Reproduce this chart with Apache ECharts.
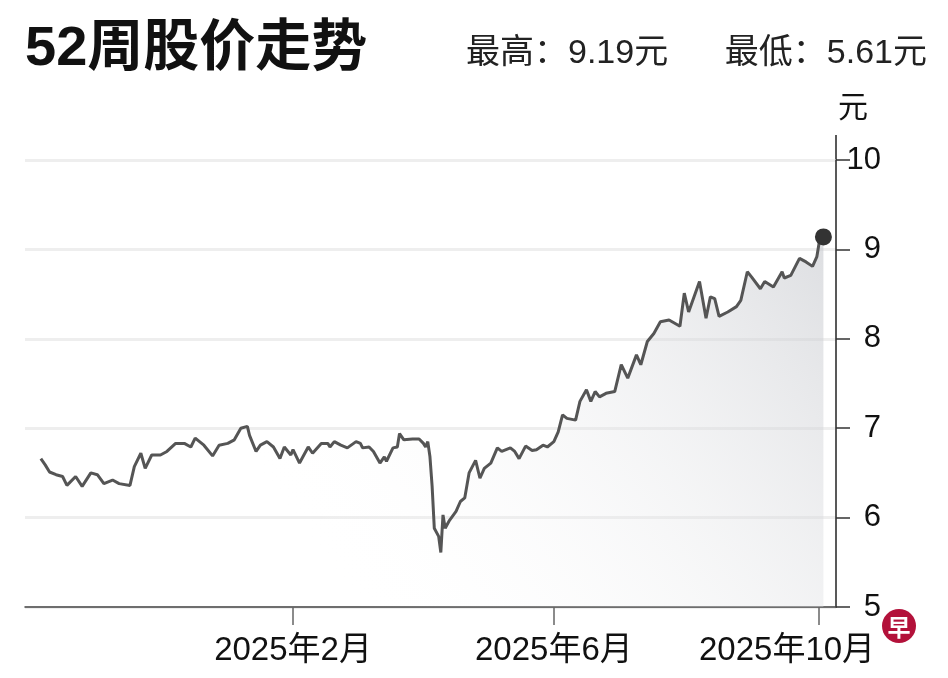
<!DOCTYPE html>
<html>
<head>
<meta charset="utf-8">
<title>52周股价走势</title>
<script src="https://cdn.jsdelivr.net/npm/echarts@6/dist/echarts.min.js"></script>
<style>
  html, body { margin: 0; padding: 0; background: #fff; }
  #main { width: 948px; height: 678px; }
</style>
</head>
<body>
<div id="main"></div>
<script>
// closing prices
var dates = [
  '2024-10-08', '2024-10-10', '2024-10-12', '2024-10-15', '2024-10-18', '2024-10-20',
  '2024-10-24', '2024-10-27', '2024-10-31', '2024-11-03', '2024-11-06', '2024-11-10',
  '2024-11-13', '2024-11-18', '2024-11-20', '2024-11-23', '2024-11-25', '2024-11-28',
  '2024-12-02', '2024-12-05', '2024-12-09', '2024-12-13', '2024-12-16', '2024-12-18',
  '2024-12-22', '2024-12-26', '2024-12-29', '2025-01-02', '2025-01-05', '2025-01-08',
  '2025-01-11', '2025-01-12', '2025-01-15', '2025-01-17', '2025-01-20', '2025-01-23',
  '2025-01-26', '2025-01-28', '2025-01-31', '2025-02-01', '2025-02-04', '2025-02-08',
  '2025-02-10', '2025-02-14', '2025-02-17', '2025-02-18', '2025-02-20', '2025-02-23',
  '2025-02-26', '2025-03-02', '2025-03-04', '2025-03-05', '2025-03-08', '2025-03-10',
  '2025-03-13', '2025-03-15', '2025-03-16', '2025-03-19', '2025-03-21', '2025-03-22',
  '2025-03-24', '2025-03-28', '2025-03-31', '2025-04-02', '2025-04-03', '2025-04-04',
  '2025-04-05', '2025-04-06', '2025-04-07', '2025-04-09', '2025-04-10', '2025-04-11',
  '2025-04-12', '2025-04-14', '2025-04-17', '2025-04-19', '2025-04-21', '2025-04-23',
  '2025-04-26', '2025-04-28', '2025-04-30', '2025-05-03', '2025-05-06', '2025-05-08',
  '2025-05-12', '2025-05-14', '2025-05-16', '2025-05-19', '2025-05-22', '2025-05-24',
  '2025-05-27', '2025-05-29', '2025-06-01', '2025-06-03', '2025-06-05', '2025-06-07',
  '2025-06-11', '2025-06-13', '2025-06-16', '2025-06-18', '2025-06-20', '2025-06-22',
  '2025-06-25', '2025-06-29', '2025-07-02', '2025-07-05', '2025-07-09', '2025-07-11',
  '2025-07-14', '2025-07-17', '2025-07-20', '2025-07-24', '2025-07-29', '2025-07-31',
  '2025-08-02', '2025-08-07', '2025-08-10', '2025-08-12', '2025-08-14', '2025-08-16',
  '2025-08-20', '2025-08-24', '2025-08-26', '2025-08-29', '2025-08-31', '2025-09-04',
  '2025-09-06', '2025-09-10', '2025-09-14', '2025-09-15', '2025-09-18', '2025-09-22',
  '2025-09-25', '2025-09-28', '2025-09-30', '2025-10-01', '2025-10-02', '2025-10-03'
];
var prices = [
  6.66, 6.59, 6.51, 6.48, 6.46, 6.36,
  6.46, 6.35, 6.50, 6.48, 6.38, 6.42,
  6.38, 6.36, 6.57, 6.72, 6.55, 6.70,
  6.70, 6.74, 6.83, 6.83, 6.79, 6.89,
  6.81, 6.69, 6.81, 6.83, 6.87, 7.00,
  7.02, 6.92, 6.74, 6.81, 6.85, 6.79,
  6.66, 6.79, 6.70, 6.76, 6.61, 6.79,
  6.72, 6.83, 6.83, 6.79, 6.85, 6.81,
  6.78, 6.85, 6.83, 6.78, 6.79, 6.74,
  6.61, 6.68, 6.63, 6.78, 6.79, 6.94,
  6.87, 6.88, 6.88, 6.83, 6.79, 6.85,
  6.68, 6.35, 5.88, 5.79, 5.61, 6.03,
  5.88, 5.97, 6.07, 6.18, 6.22, 6.50,
  6.64, 6.44, 6.55, 6.61, 6.78, 6.74,
  6.78, 6.74, 6.66, 6.80, 6.75, 6.76,
  6.81, 6.79, 6.85, 6.96, 7.15, 7.11,
  7.09, 7.30, 7.43, 7.30, 7.41, 7.35,
  7.39, 7.41, 7.71, 7.56, 7.82, 7.71,
  7.97, 8.06, 8.19, 8.21, 8.14, 8.51,
  8.30, 8.64, 8.23, 8.47, 8.45, 8.25,
  8.30, 8.36, 8.43, 8.75, 8.69, 8.56,
  8.64, 8.58, 8.75, 8.68, 8.71, 8.90,
  8.86, 8.81, 8.92, 9.07, 9.19, 9.14
];
var monthTicks = ['2025-02-01', '2025-06-01', '2025-10-01'];
var yTicks = [5, 6, 7, 8, 9, 10];
var high = 9.19;
var low = 5.61;

var FONT = "'Liberation Sans', 'Noto Sans CJK SC', sans-serif";
var gridLeft = 25, gridRight = 112, gridTop = 160, gridBottom = 71;

function toTime(s) {
    var p = s.split('-');
    return new Date(+p[0], +p[1] - 1, +p[2]).getTime();
}

var chart = echarts.init(document.getElementById('main'));

// x is a plain value axis of timestamps so the three month ticks can be placed exactly
var seriesData = dates.map(function (d, i) { return [toTime(d), prices[i]]; });
var last = seriesData[seriesData.length - 1];
var lastTick = toTime(monthTicks[monthTicks.length - 1]);

var option = {
    backgroundColor: '#fff',
    animation: false,
    title: [
        {
            text: '52周股价走势',
            left: 20,
            top: 17,
            textStyle: { fontFamily: FONT, fontSize: 56, fontWeight: 'bold', color: '#111' }
        },
        {
            text: '最高：' + high.toFixed(2) + '元      最低：' + low.toFixed(2) + '元',
            right: 16,
            top: 32,
            textStyle: { fontFamily: FONT, fontSize: 34, fontWeight: 'normal', color: '#222' }
        }
    ],
    grid: { left: gridLeft, right: gridRight, top: gridTop, bottom: gridBottom },
    xAxis: {
        type: 'value',
        min: new Date(2024, 8, 30, 17).getTime(),
        max: new Date(2025, 9, 8, 19).getTime(),
        axisLine: { lineStyle: { color: '#444', width: 1.5 } },
        axisTick: {
            customValues: monthTicks.map(toTime),
            length: 18,
            lineStyle: { color: '#666', width: 1.5 }
        },
        axisLabel: {
            customValues: monthTicks.map(toTime),
            margin: 27,
            fontFamily: FONT,
            fontSize: 33,
            color: '#111',
            formatter: function (v) {
                var d = new Date(v);
                var s = d.getFullYear() + '年' + (d.getMonth() + 1) + '月';
                // the last label is pushed left, clear of the logo
                return v === lastTick ? '{shift|' + s + '}' : s;
            },
            rich: {
                shift: { fontFamily: FONT, fontSize: 33, color: '#111', padding: [0, 64, 0, 0] }
            }
        },
        splitLine: { show: false }
    },
    yAxis: {
        type: 'value',
        position: 'right',
        min: yTicks[0],
        max: yTicks[yTicks.length - 1],
        interval: 1,
        name: '元',
        nameLocation: 'end',
        nameGap: 36,
        nameTextStyle: { fontFamily: FONT, fontSize: 30, color: '#111', align: 'left', padding: [0, 0, 0, 2] },
        axisLine: { show: true, lineStyle: { color: '#222', width: 1.5 } },
        axisTick: { show: true, length: 14, lineStyle: { color: '#333', width: 1.5 } },
        axisLabel: { align: 'right', margin: 45, fontFamily: FONT, fontSize: 31, color: '#111' },
        splitLine: { lineStyle: { color: '#eeeeee', width: 3 } }
    },
    series: [
        {
            type: 'line',
            data: seriesData,
            showSymbol: false,
            lineStyle: { color: '#555', width: 3 },
            areaStyle: {
                color: new echarts.graphic.LinearGradient(1, 0.05, 0.4, 1, [
                    { offset: 0, color: 'rgba(200,202,207,0.85)' },
                    { offset: 1, color: 'rgba(255,255,255,0)' }
                ])
            },
            z: 3
        },
        {
            type: 'scatter',
            data: [last],
            symbolSize: 17,
            itemStyle: { color: '#333', opacity: 1 },
            z: 4
        }
    ],
    graphic: [
        {
            // axis line continues above the top tick
            type: 'line',
            shape: { x1: 948 - gridRight, y1: 135, x2: 948 - gridRight, y2: gridTop },
            style: { stroke: '#222', lineWidth: 1.5 }
        },
        {
            type: 'group',
            left: 882,
            top: 609,
            children: [
                { type: 'circle', shape: { cx: 17, cy: 17, r: 17 }, style: { fill: '#b3113a' } },
                {
                    type: 'text',
                    x: 17, y: 18,
                    style: {
                        text: '早', fill: '#fff', font: "bold 23px 'Noto Sans CJK SC'",
                        align: 'center', verticalAlign: 'middle'
                    }
                }
            ]
        }
    ]
};

chart.setOption(option);
</script>
</body>
</html>
